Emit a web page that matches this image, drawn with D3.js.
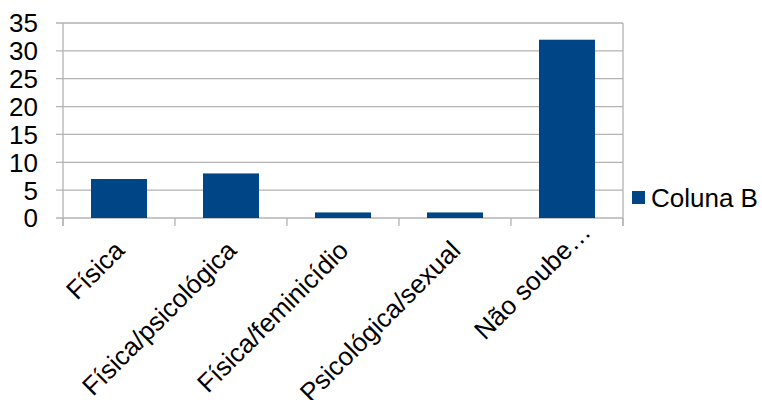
<!DOCTYPE html>
<html><head><meta charset="utf-8">
<script src="https://cdn.jsdelivr.net/npm/d3@7"></script>
<style>body{margin:0;background:#fff}svg{display:block}text{font-family:"Liberation Sans",Arial,sans-serif;fill:#000}</style>
</head><body><svg id="c" width="762" height="400"></svg>
<script>
const categories = ["Física", "Física/psicológica", "Física/feminicídio", "Psicológica/sexual", "Não soube…"];
const values = [7, 8, 1, 1, 32];
const yTicks = [0, 5, 10, 15, 20, 25, 30, 35];
const seriesName = "Coluna B";

const svg = d3.select("#c");
const m = {l: 63, r: 623, t: 23, b: 218};
const x = d3.scaleBand().domain(categories).range([m.l, m.r]).paddingInner(0).paddingOuter(0);
const y = d3.scaleLinear().domain([0, 35]).range([m.b, m.t]);
const grid = "#b3b3b3";
const fs = 26;

// gridlines
svg.append("g").selectAll("line").data(yTicks).join("line")
  .attr("x1", m.l - 7).attr("x2", m.r).attr("y1", d => y(d)).attr("y2", d => y(d))
  .attr("stroke", grid).attr("stroke-width", 1.3);
// axes
svg.append("line").attr("x1", m.l).attr("x2", m.l).attr("y1", m.t).attr("y2", m.b + 8).attr("stroke", grid).attr("stroke-width", 1.3);
svg.append("line").attr("x1", m.r).attr("x2", m.r).attr("y1", m.t).attr("y2", m.b + 8).attr("stroke", grid).attr("stroke-width", 1.3);
// x ticks at band boundaries
const bounds = categories.map(c => x(c)).concat([m.r]);
svg.append("g").selectAll("line").data(bounds).join("line")
  .attr("x1", d => d).attr("x2", d => d).attr("y1", m.b).attr("y2", m.b + 8)
  .attr("stroke", grid).attr("stroke-width", 1.3);

// y labels
svg.append("g").selectAll("text").data(yTicks).join("text")
  .attr("x", 38).attr("y", d => y(d)).attr("dy", "0.36em")
  .attr("text-anchor", "end").attr("font-size", fs).text(d => d);

// bars
const bw = x.bandwidth() / 2;
svg.append("g").selectAll("rect").data(values).join("rect")
  .attr("x", (d, i) => x(categories[i]) + x.bandwidth() / 2 - bw / 2)
  .attr("width", bw)
  .attr("y", d => y(d)).attr("height", d => y(0) - y(d))
  .attr("fill", "#004586");

// x labels rotated
const xl = svg.append("g").selectAll("g").data(categories).join("g")
  .attr("transform", d => `translate(${x(d) + x.bandwidth() / 2 + 7},252) rotate(-45)`);
xl.append("text").attr("text-anchor", "end").attr("font-size", fs)
  .text(d => d.replace("…", ""));
xl.filter(d => d.endsWith("…")).append("text").attr("text-anchor", "start").attr("font-size", fs)
  .attr("letter-spacing", 2).text("…");

// legend
svg.append("rect").attr("x", 632).attr("y", 191).attr("width", 13).attr("height", 13).attr("fill", "#004586");
svg.append("text").attr("x", 651).attr("y", 207).attr("font-size", fs).text(seriesName);
</script></body></html>
